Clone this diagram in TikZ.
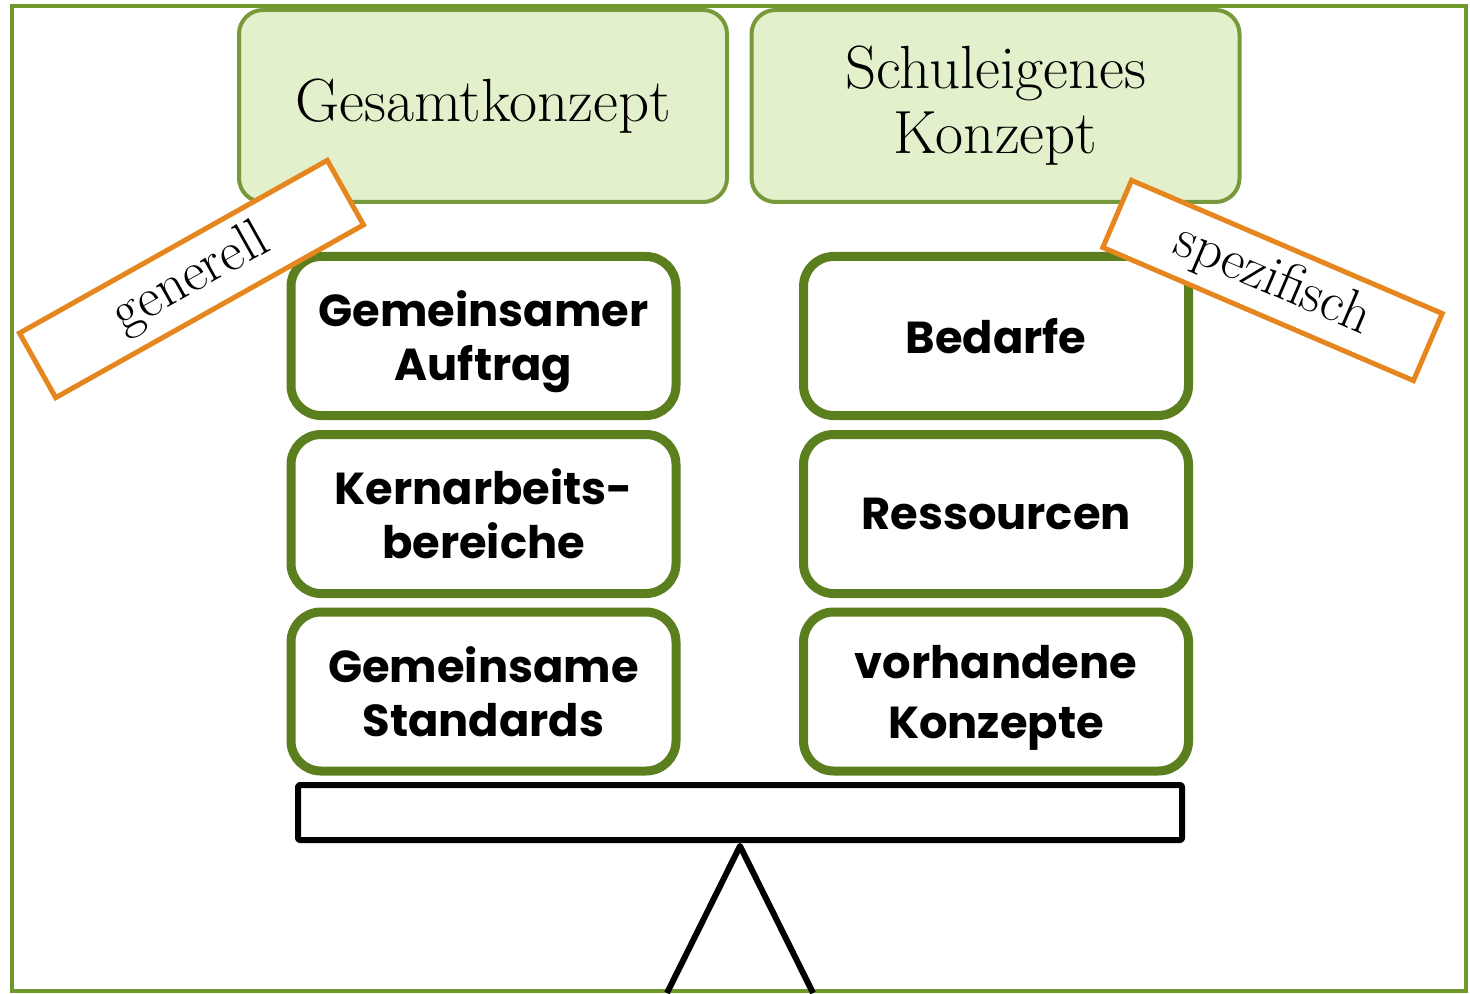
\documentclass[tikz,border=0pt]{standalone}
\usepackage{fontspec}
\newfontfamily\gothic{Poppins}
\usetikzlibrary{shadows}
\definecolor{framegreen}{HTML}{6F9A2B}
\definecolor{topfill}{HTML}{E2F0CC}
\definecolor{topline}{HTML}{77993A}
\definecolor{stackline}{HTML}{5B7F1E}
\definecolor{labelorange}{HTML}{E5861F}
\tikzset{
  topbox/.style={draw=topline, fill=topfill, line width=2pt, rounded corners=12pt,
    minimum width=244pt, minimum height=96pt, inner sep=0pt, align=center,
    font=\fontsize{30.5}{32.5}\selectfont},
  stackbox/.style={draw=stackline, fill=white, line width=4.5pt, rounded corners=15pt,
    minimum width=192.5pt, minimum height=79.5pt, inner sep=0pt, align=center,
    text depth=0pt,
    font=\gothic\bfseries\fontsize{22.4}{27}\selectfont,
    drop shadow={shadow xshift=1.5pt, shadow yshift=-1.5pt, opacity=0.25, fill=black}},
  tag/.style={draw=labelorange, fill=white, line width=2.5pt, inner sep=0pt,
    font=\fontsize{28}{30}\selectfont},
  beam/.style={draw=black, line width=3pt, line join=round},
}
\begin{document}
\begin{tikzpicture}[x=0.5pt, y=-0.5pt]
\useasboundingbox (0,0) rectangle (1470,994);
% outer frame
\draw[framegreen, line width=2pt] (12,6) rectangle (1466,991);
% top boxes
\node[topbox] (gesamt) at (483,106) {Gesamtkonzept};
\node[topbox] (schul) at (995.5,106) {Schuleigenes\\Konzept};
% stacks
\node[stackbox] (auftrag) at (483.5,336) {Gemeinsamer\\Auftrag};
\node[stackbox] (kern) at (483.5,514) {Kernarbeits-\\bereiche};
\node[stackbox] (standards) at (483.5,691.5) {Gemeinsame\\Standards};
\node[stackbox] (bedarfe) at (996,336) {Bedarfe};
\node[stackbox] (ress) at (996,514) {Ressourcen};
\node[stackbox] (konz) at (996,691.5) {vorhandene\\[3pt]Konzepte};
% balance beam
\node[beam, minimum width=442pt, minimum height=27.5pt, inner sep=0pt, rounded corners=1pt] (plank) at (740,812.5) {};
\coordinate (apex) at (740,846);
\coordinate (bl) at (667,993);
\coordinate (br) at (813,993);
\draw[beam] (bl) -- (apex) -- (br);
% labels
\node[tag, minimum width=176.5pt, minimum height=37pt, rotate=29.3] (gen) at (191.5,279) {generell};
\node[tag, minimum width=169pt, minimum height=36.5pt, rotate=-23.2] (spez) at (1272.5,280.5) {spezifisch};
\end{tikzpicture}
\end{document}
